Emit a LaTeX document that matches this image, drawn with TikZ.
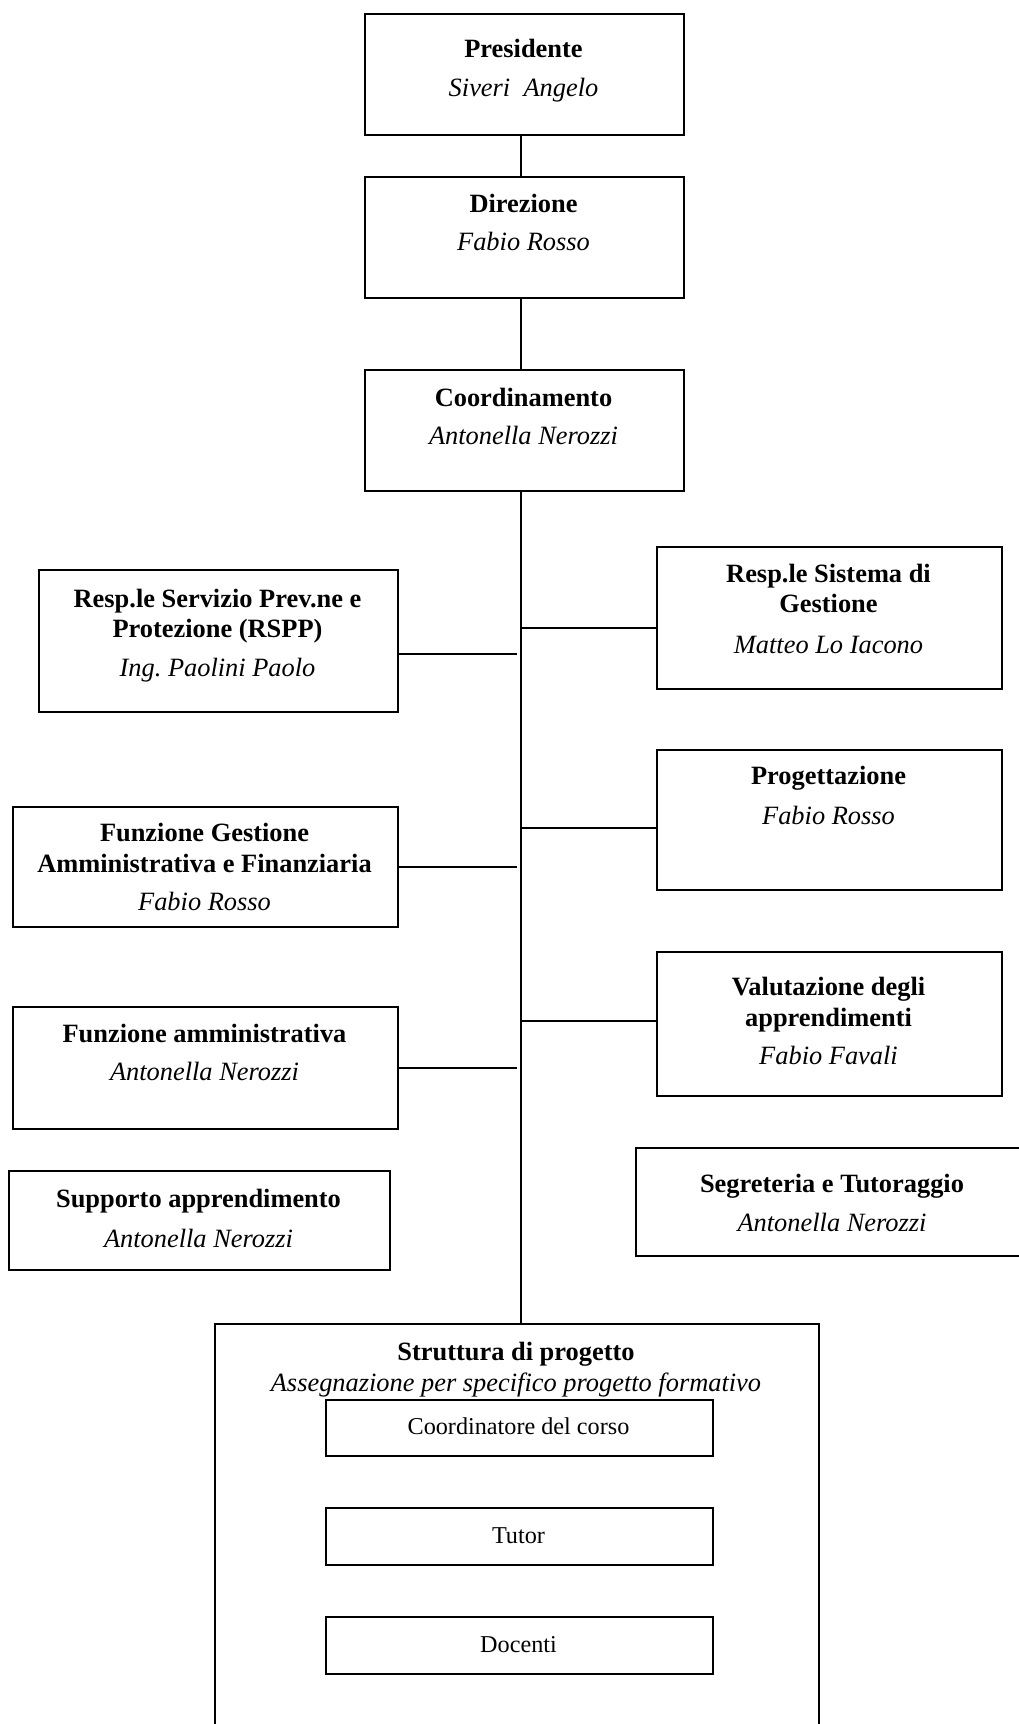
\documentclass[tikz,border=0pt]{standalone}
\usepackage{fontspec}
\setmainfont{Liberation Serif}
\begin{document}
\begin{tikzpicture}[x=1pt,y=-1pt,
  bx/.style={draw, line width=2pt, rectangle, inner sep=0pt, anchor=north west},
  ln/.style={line width=2pt},
  ttl/.style={anchor=base, inner sep=0pt, font=\fontsize{26.4pt}{30pt}\selectfont\bfseries},
  nm/.style={anchor=base, inner sep=0pt, font=\fontsize{26.4pt}{30pt}\selectfont\itshape},
  sm/.style={anchor=base, inner sep=0pt, font=\fontsize{24.2pt}{28pt}\selectfont}]
\useasboundingbox (0,0) rectangle (1019,1724);
\clip (0,0) rectangle (1019,1724);
\coordinate (T) at (521,0);
\coordinate (L) at (517,0);
% top column
\node[bx, minimum width=319pt, minimum height=121pt] (pres) at (364,13) {};
\node[ttl] (presA) at (523.5,57) {Presidente};
\node[nm] (presB) at (523.5,96) {Siveri~~Angelo};
\node[bx, minimum width=319pt, minimum height=121pt] (dir) at (364,176) {};
\node[ttl] (dirA) at (523.5,212) {Direzione};
\node[nm] (dirB) at (523.5,250) {Fabio Rosso};
\node[bx, minimum width=319pt, minimum height=121pt] (coord) at (364,369) {};
\node[ttl] (coordA) at (523.5,406) {Coordinamento};
\node[nm] (coordB) at (523.5,444) {Antonella Nerozzi};
% left boxes
\node[bx, minimum width=359pt, minimum height=142pt] (rspp) at (38,569) {};
\node[ttl] (rsppA) at (217.5,607) {Resp.le Servizio Prev.ne e};
\node[ttl] (rsppB) at (217.5,637) {Protezione (RSPP)};
\node[nm] (rsppC) at (217.5,676) {Ing.\ Paolini Paolo};
\node[bx, minimum width=385pt, minimum height=120pt] (gest) at (12,806) {};
\node[ttl] (gestA) at (204.5,841) {Funzione Gestione};
\node[ttl] (gestB) at (204.5,872) {Amministrativa e Finanziaria};
\node[nm] (gestC) at (204.5,910) {Fabio Rosso};
\node[bx, minimum width=385pt, minimum height=122pt] (amm) at (12,1006) {};
\node[ttl] (ammA) at (204.5,1042) {Funzione amministrativa};
\node[nm] (ammB) at (204.5,1080) {Antonella Nerozzi};
\node[bx, minimum width=381pt, minimum height=99pt] (supp) at (8,1170) {};
\node[ttl] (suppA) at (198.5,1207) {Supporto apprendimento};
\node[nm] (suppB) at (198.5,1247) {Antonella Nerozzi};
% right boxes
\node[bx, minimum width=345pt, minimum height=142pt] (sist) at (656,546) {};
\node[ttl] (sistA) at (828.5,582) {Resp.le Sistema di};
\node[ttl] (sistB) at (828.5,612) {Gestione};
\node[nm] (sistC) at (828.5,653) {Matteo Lo Iacono};
\node[bx, minimum width=345pt, minimum height=140pt] (prog) at (656,749) {};
\node[ttl] (progA) at (828.5,784) {Progettazione};
\node[nm] (progB) at (828.5,824) {Fabio Rosso};
\node[bx, minimum width=345pt, minimum height=144pt] (valu) at (656,951) {};
\node[ttl] (valuA) at (828.5,995) {Valutazione degli};
\node[ttl] (valuB) at (828.5,1026) {apprendimenti};
\node[nm] (valuC) at (828.5,1064) {Fabio Favali};
\node[bx, minimum width=394pt, minimum height=108pt] (segr) at (635,1147) {};
\node[ttl] (segrA) at (832,1192) {Segreteria e Tutoraggio};
\node[nm] (segrB) at (832,1231) {Antonella Nerozzi};
% project structure
\node[bx, minimum width=604pt, minimum height=440pt] (strut) at (214,1323) {};
\node[ttl] (strutA) at (516,1360) {Struttura di progetto};
\node[nm] (strutB) at (516,1391) {Assegnazione per specifico progetto formativo};
\node[bx, minimum width=387pt, minimum height=56pt] (cdc) at (325,1399) {};
\node[sm] (cdcA) at (518.5,1434) {Coordinatore del corso};
\node[bx, minimum width=387pt, minimum height=57pt] (tut) at (325,1507) {};
\node[sm] (tutA) at (518.5,1543) {Tutor};
\node[bx, minimum width=387pt, minimum height=57pt] (doc) at (325,1616) {};
\node[sm] (docA) at (518.5,1652) {Docenti};
% trunk
\draw[ln] (pres.south -| T) -- (dir.north -| T);
\draw[ln] (dir.south -| T) -- (coord.north -| T);
\draw[ln] (coord.south -| T) -- (strut.north -| T);
% right branches
\draw[ln] ([yshift=-10pt]sist.west -| T) -- ([yshift=-10pt]sist.west);
\draw[ln] ([yshift=-8pt]prog.west -| T) -- ([yshift=-8pt]prog.west);
\draw[ln] ([yshift=3pt]valu.west -| T) -- ([yshift=3pt]valu.west);
% left branches
\draw[ln] ([yshift=-13pt]rspp.east) -- ([yshift=-13pt]rspp.east -| L);
\draw[ln] (gest.east) -- (gest.east -| L);
\draw[ln] (amm.east) -- (amm.east -| L);
\end{tikzpicture}
\end{document}
